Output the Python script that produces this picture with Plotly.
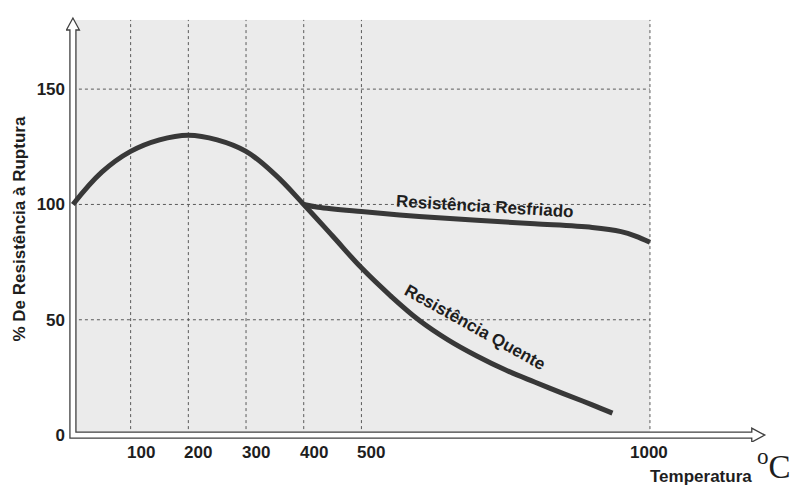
import plotly.graph_objects as go

# ---------------- data ----------------
temperatura_quente = [0, 50, 100, 150, 200, 250, 300, 350, 400, 450, 500, 550, 600, 650, 700, 750, 800, 850, 900, 935]
resistencia_quente = [100, 114, 123, 128, 130, 128, 123, 113, 100, 86.3, 72.5, 60.5, 49.8, 41.3, 34.3, 28.2, 23, 18, 13.1, 9.5]

temperatura_resfriado = [400, 425, 500, 600, 700, 800, 900, 950, 975, 1000]
resistencia_resfriado = [100, 98.8, 96.9, 94.8, 93.1, 91.6, 90.0, 88.2, 86.3, 83.6]

x_ticks = [100, 200, 300, 400, 500, 1000]
x_tick_labels = ["100", "200", "300", "400", "500", "1000"]
y_ticks = [0, 50, 100, 150]
y_tick_labels = ["0", "50", "100", "150"]

label_quente = "Resistência Quente"
label_resfriado = "Resistência Resfriado"
y_title = "% De Resistência à Ruptura"
x_title = "Temperatura"
unit_text = "<sup>o</sup>C"

# ---------------- layout geometry ----------------
OFF = 8                      # default page margin of the html body
W, H = 804 - OFF, 496 - OFF
L, R, T, B = 58, 30, 5, 54
X_RANGE = [-12, 1215]
Y_RANGE = [-3, 183]
PW, PH = W - L - R, H - T - B
px_x = PW / (X_RANGE[1] - X_RANGE[0])
px_y = PH / (Y_RANGE[1] - Y_RANGE[0])


def ux(p):
    return p / px_x


def uy(p):
    return p / px_y


def paper_x(px):
    return (px - OFF - L) / PW


def paper_y(py):
    return (H - B - (py - OFF)) / PH


FONT = "Liberation Sans, Arial, sans-serif"
TXT = "#1e1e1e"
LINE = "#383838"
GRID = dict(color="#5a5a5a", width=1, dash="3px,3px")
TOP = 180

fig = go.Figure()

fig.add_trace(go.Scatter(
    x=temperatura_quente, y=resistencia_quente, mode="lines",
    line=dict(color=LINE, width=5, shape="spline", smoothing=1.1),
    hoverinfo="skip", showlegend=False))
fig.add_trace(go.Scatter(
    x=temperatura_resfriado, y=resistencia_resfriado, mode="lines",
    line=dict(color=LINE, width=5, shape="spline", smoothing=1.0),
    hoverinfo="skip", showlegend=False))

shapes = []
shapes.append(dict(type="rect", xref="x", yref="y", x0=0, x1=1000, y0=0, y1=TOP,
                   fillcolor="#ebebeb", line_width=0, layer="below"))
for v in x_ticks:
    shapes.append(dict(type="line", xref="x", yref="y", x0=v, x1=v, y0=0, y1=TOP,
                       line=GRID, layer="below"))
for v in y_ticks[1:]:
    shapes.append(dict(type="line", xref="x", yref="y", x0=0, x1=1000, y0=v, y1=v,
                       line=GRID, layer="below"))

# hollow axis arrows
hx, hy = ux(3), uy(3)
HX, HY = ux(6.5), uy(7)
ytip = Y_RANGE[1] - uy(5)
ybase = ytip - uy(12)
xtip = 1199
xbase = xtip - ux(13)
path = (f"M {-hx},{-hy} L {-hx},{ybase} L {-HX},{ybase} L 0,{ytip} L {HX},{ybase} "
        f"L {hx},{ybase} L {hx},{hy} L {xbase},{hy} L {xbase},{HY} L {xtip},0 "
        f"L {xbase},{-HY} L {xbase},{-hy} Z")
shapes.append(dict(type="path", xref="x", yref="y", path=path, fillcolor="white",
                   line=dict(color="#404040", width=1.3), layer="below"))

annotations = []
for v, lab in zip(x_ticks, x_tick_labels):
    annotations.append(dict(x=v, y=0, xref="x", yref="y", text=lab, showarrow=False,
                            xanchor="center", yanchor="top", yshift=-6,
                            xshift=10 if v < 1000 else -1,
                            font=dict(family=FONT, size=17, color=TXT, weight="bold")))

annotations.append(dict(x=0, y=0.5, xref="paper", yref="paper", text=y_title,
                        showarrow=False, textangle=-90, xanchor="center", yanchor="middle",
                        xshift=18.5 - OFF - L, yshift=-1.5,
                        font=dict(family=FONT, size=17, color=TXT, weight="bold")))
annotations.append(dict(x=paper_x(701), y=paper_y(476), xref="paper", yref="paper",
                        text=x_title, showarrow=False, xanchor="center", yanchor="middle",
                        font=dict(family=FONT, size=17, color=TXT, weight="bold")))
annotations.append(dict(x=paper_x(793), y=paper_y(464), xref="paper", yref="paper",
                        text=unit_text, showarrow=False, xanchor="right", yanchor="middle",
                        font=dict(family="Liberation Serif, Times New Roman, serif",
                                  size=33, color=TXT)))
annotations.append(dict(x=714, y=99.0, xref="x", yref="y", text=label_resfriado,
                        showarrow=False, textangle=3.5, xanchor="center", yanchor="middle",
                        font=dict(family=FONT, size=17, color=TXT, weight="bold")))
annotations.append(dict(x=697, y=46.6, xref="x", yref="y", text=label_quente,
                        showarrow=False, textangle=29, xanchor="center", yanchor="middle",
                        font=dict(family=FONT, size=17, color=TXT, weight="bold")))

fig.update_layout(
    width=W, height=H,
    margin=dict(l=L, r=R, t=T, b=B, autoexpand=False),
    paper_bgcolor="white", plot_bgcolor="white",
    shapes=shapes, annotations=annotations,
    xaxis=dict(range=X_RANGE, showgrid=False, zeroline=False, showline=False,
               showticklabels=False, ticks="", fixedrange=True),
    yaxis=dict(range=Y_RANGE, showgrid=False, zeroline=False, showline=False,
               tickvals=y_ticks, ticktext=y_tick_labels, ticks="",
               tickfont=dict(family=FONT, size=17, color=TXT, weight="bold"),
               fixedrange=True),
)

fig.write_html("out.html")
